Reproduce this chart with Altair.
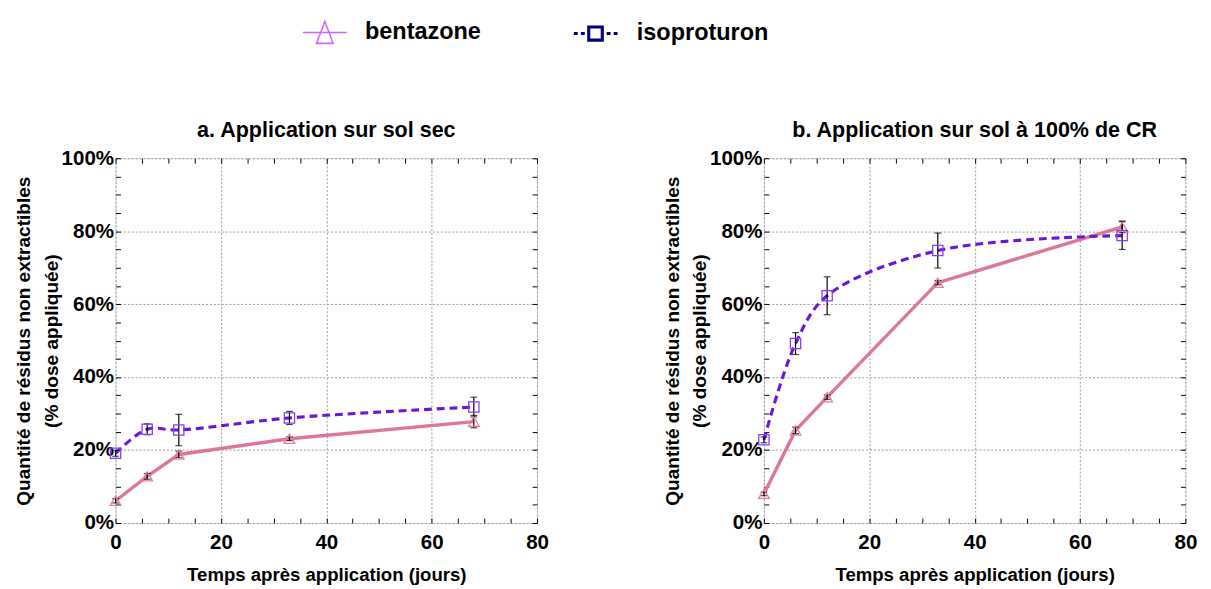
import altair as alt
import pandas as pd

days = [0, 6, 12, 33, 68]
series_names = ["bentazone", "isoproturon"]

bent_a = [6.1, 12.8, 18.8, 23.1, 27.8]
bent_a_err = [0.6, 0.8, 0.9, 0.5, 1.7]
iso_a = [19.1, 25.7, 25.5, 28.8, 31.8]
iso_a_err = [0.8, 1.5, 4.3, 1.8, 2.7]

bent_b = [8.0, 25.4, 34.5, 65.9, 81.2]
bent_b_err = [0.5, 0.9, 0.6, 0.6, 1.6]
iso_b = [22.8, 49.2, 62.3, 74.7, 78.8]
iso_b_err = [0.8, 3.0, 5.2, 4.8, 3.8]

titles = ["a. Application sur sol sec", "b. Application sur sol à 100% de CR"]
x_title = "Temps après application (jours)"
y_title = ["Quantité de résidus non extractibles", "(% dose appliquée)"]
x_ticks = list(range(0, 81, 5))
y_ticks = list(range(0, 101, 5))

FONT = "Liberation Sans"
PINK = "#dc7896"
PINK_MK = "#e27f9e"
PURPLE = "#6a16dc"
PURPLE_MK = "#8a3cf2"

xscale = alt.Scale(domain=[0, 80], nice=False, zero=False)
yscale = alt.Scale(domain=[0, 100], nice=False, zero=False)

grid_op = {"condition": {"test": "datum.value % 20 === 0", "value": 1}, "value": 0}

ax_bottom = alt.Axis(values=x_ticks, labelExpr="datum.value % 20 === 0 ? datum.label : ''",
                     orient="bottom", offset=-5, domain=False, tickSize=5, tickColor="black",
                     labelPadding=9, labelFlush=False, labelFont=FONT, labelFontSize=21,
                     labelFontWeight="bold", labelColor="black", grid=True, gridOpacity=grid_op,
                     gridDash=[2, 2], gridColor="#9a9a9a", title=x_title, titleFont=FONT,
                     titleFontSize=19, titleFontWeight="bold", titleColor="black", titlePadding=14)
ax_left = alt.Axis(values=y_ticks, labelExpr="datum.value % 20 === 0 ? datum.value + '%' : ''",
                   orient="left", offset=-5, domain=False, tickSize=5, tickColor="black",
                   labelPadding=2, labelFlush=False, labelFont=FONT, labelFontSize=21,
                   labelFontWeight="bold", labelColor="black", grid=True, gridOpacity=grid_op,
                   gridDash=[2, 2], gridColor="#9a9a9a", title=y_title, titleFont=FONT,
                   titleFontSize=19.5, titleFontWeight="bold", titleColor="black", titlePadding=0,
                   titleLineHeight=28)
ax_top = alt.Axis(values=x_ticks, orient="top", offset=-5, domain=False, tickSize=5,
                  tickColor="black", labels=False, grid=False, title=None)
ax_right = alt.Axis(values=y_ticks, orient="right", offset=-5, domain=False, tickSize=5,
                    tickColor="black", labels=False, grid=False, title=None)

# legend glyphs (line + marker), drawn wider than the legend's layout box
shape_paths = [
    "M-2,0H2M0,-1L0.76,1L-0.76,1Z",
    "M-2,0H-1.64M-1.36,0H-1M-0.64,-0.6H0.6V0.6H-0.64ZM1,0H1.36M1.64,0H2",
]


def make_panel(bent, bent_err, iso, iso_err, title, legend):
    rows = []
    for name, vals, errs in [("bentazone", bent, bent_err), ("isoproturon", iso, iso_err)]:
        for d, v, e in zip(days, vals, errs):
            rows.append({"series": name, "day": d, "value": v, "lo": v - e, "hi": v + e})
    df = pd.DataFrame(rows)
    base = alt.Chart(df)
    xn = alt.X("day:Q", scale=xscale, axis=None)
    yn = alt.Y("value:Q", scale=yscale, axis=None)

    bent_line = base.transform_filter(alt.datum.series == "bentazone").mark_line(
        color=PINK, strokeWidth=3.5).encode(
        x=alt.X("day:Q", scale=xscale, axis=ax_bottom),
        y=alt.Y("value:Q", scale=yscale, axis=ax_left))
    iso_line = base.transform_filter(alt.datum.series == "isoproturon").mark_line(
        color=PURPLE, strokeWidth=3.2, strokeDash=[8, 5], interpolate="catmull-rom").encode(
        x=alt.X("day:Q", scale=xscale, axis=ax_top),
        y=alt.Y("value:Q", scale=yscale, axis=ax_right))
    err_rule = base.mark_rule(color="black", strokeWidth=1.2).encode(
        x=xn, y=alt.Y("lo:Q", scale=yscale, axis=None), y2="hi:Q")
    err_lo = base.mark_tick(color="black", thickness=1.2, size=7, orient="horizontal").encode(
        x=xn, y=alt.Y("lo:Q", scale=yscale, axis=None))
    err_hi = base.mark_tick(color="black", thickness=1.2, size=7, orient="horizontal").encode(
        x=xn, y=alt.Y("hi:Q", scale=yscale, axis=None))
    bent_pts = base.transform_filter(alt.datum.series == "bentazone").mark_point(
        shape="triangle-up", filled=False, color=PINK_MK, size=120, strokeWidth=1.3,
        opacity=1).encode(x=xn, y=yn)
    iso_pts = base.transform_filter(alt.datum.series == "isoproturon").mark_point(
        shape="square", filled=False, color=PURPLE_MK, size=110, strokeWidth=1.3,
        opacity=1).encode(x=xn, y=yn)

    layers = [bent_line, iso_line, err_rule, err_lo, err_hi, bent_pts, iso_pts]

    if legend:
        leg = alt.Legend(orient="none", legendX=202, legendY=-141, direction="horizontal",
                         title=None, labelFont=FONT, labelFontSize=24, labelFontWeight="bold",
                         labelColor="black", symbolSize=500, columnPadding=88, labelOffset=29,
                         padding=0, symbolFillColor="transparent")
        leg_layer = base.transform_filter("false").mark_point(filled=False, opacity=1).encode(
            color=alt.Color("series:N", scale=alt.Scale(domain=series_names,
                                                        range=["#cc66ff", "#000080"]), legend=leg),
            shape=alt.Shape("series:N", scale=alt.Scale(domain=series_names, range=shape_paths),
                            legend=leg),
            strokeWidth=alt.StrokeWidth("series:N", scale=alt.Scale(domain=series_names,
                                                                    range=[1.6, 3.2]), legend=leg),
        )
        layers.append(leg_layer)

    return alt.layer(*layers).resolve_axis(x="independent", y="independent").properties(
        width=431, height=373,
        title=alt.TitleParams(title, font=FONT, fontSize=22, fontWeight="bold", color="black",
                              offset=6))


pa = make_panel(bent_a, bent_a_err, iso_a, iso_a_err, titles[0], True)
pb = make_panel(bent_b, bent_b_err, iso_b, iso_b_err, titles[1], False)

chart = alt.hconcat(pa, pb, spacing=114).configure_view(
    stroke="black", strokeWidth=1.5).configure(background="white").properties(
    padding={"left": 5, "top": 6, "right": 5, "bottom": 5})

chart.save("out.html", embed_options={"renderer": "svg", "actions": False})
